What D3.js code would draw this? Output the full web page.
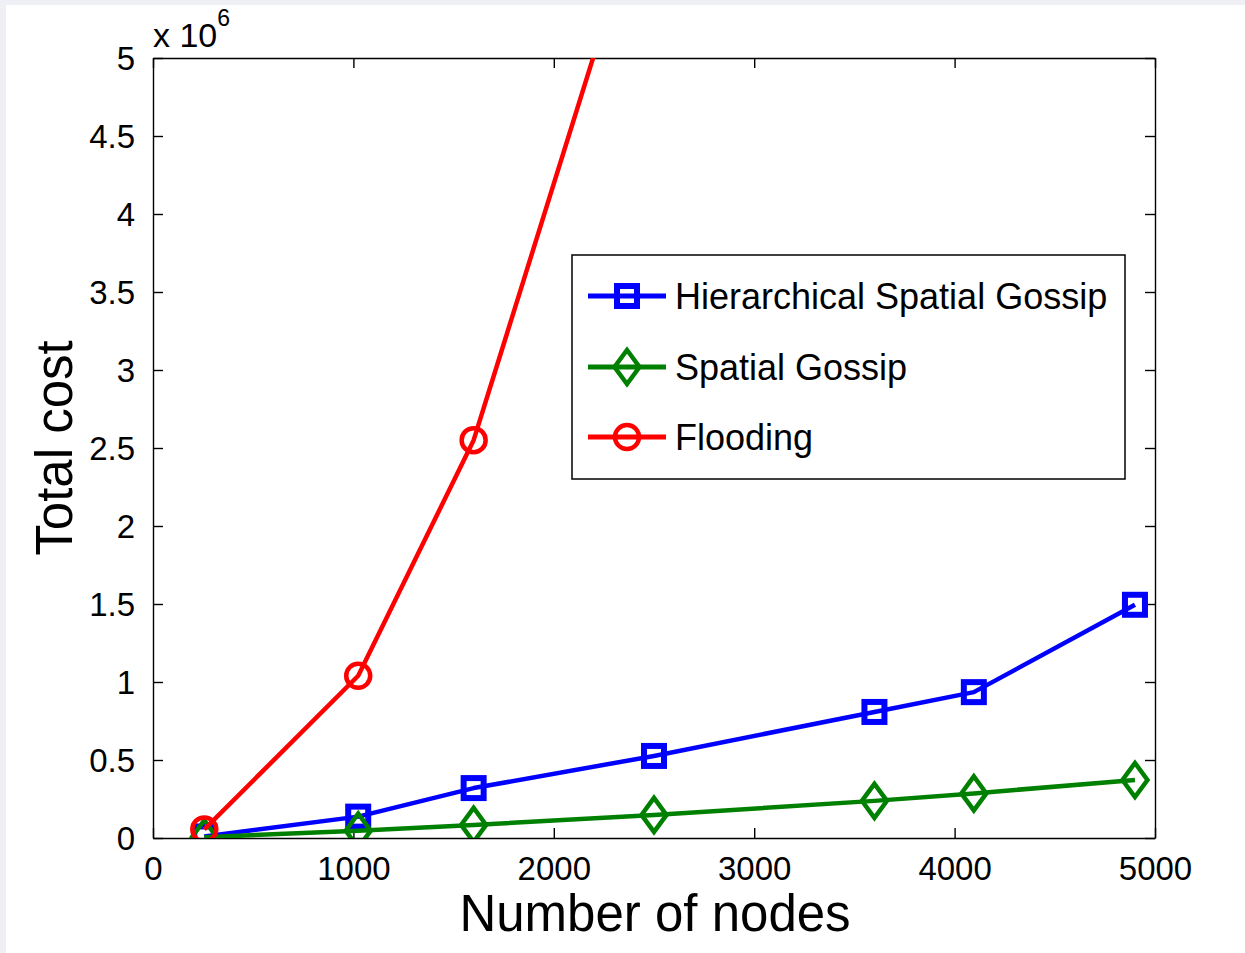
<!DOCTYPE html>
<html>
<head>
<meta charset="utf-8">
<script src="https://cdn.jsdelivr.net/npm/d3@7"></script>
<style>
  html, body { margin: 0; padding: 0; background: #eef0f5; }
  svg { display: block; }
  text { font-family: "Liberation Sans", Arial, sans-serif; fill: #000; }
</style>
</head>
<body>
<svg id="chart" width="1245" height="953"></svg>
<script>
// ---- data (values in units of 10^6) ----
const nodes = [256, 1024, 1600, 2500, 3600, 4096, 4900];
const hierarchicalSpatialGossip = [0.01, 0.137, 0.32, 0.526, 0.808, 0.935, 1.495];
const spatialGossip = [0.005, 0.047, 0.084, 0.148, 0.238, 0.286, 0.372];
const flooding = [0.055, 1.04, 2.55, 6.25, 12.96, 16.78, 24.0];
const xTicks = [0, 1000, 2000, 3000, 4000, 5000];
const yTicks = [0, 0.5, 1, 1.5, 2, 2.5, 3, 3.5, 4, 4.5, 5];
const seriesNames = ["Hierarchical Spatial Gossip", "Spatial Gossip", "Flooding"];
const seriesColors = ["#0000ff", "#008000", "#ff0000"];
const seriesMarkers = ["square", "diamond", "circle"];

const svg = d3.select("#chart");
svg.append("rect").attr("x", 6).attr("y", 5).attr("width", 1245 - 6).attr("height", 953 - 5).attr("fill", "#fff");

const L = 153, R = 1155, T = 58, B = 838;
const x = d3.scaleLinear().domain([0, 5000]).range([L, R]);
const y = d3.scaleLinear().domain([0, 5]).range([B, T]);

svg.append("defs").append("clipPath").attr("id", "plotclip")
  .append("rect").attr("x", L).attr("y", T).attr("width", R - L).attr("height", B - T);

// axes (inward ticks, MATLAB box)
const tickLen = 10;
const axB = svg.append("g").attr("transform", `translate(0,${B})`)
  .call(d3.axisBottom(x).tickValues(xTicks).tickSizeInner(-tickLen).tickSizeOuter(0).tickPadding(19).tickFormat(d3.format("d")));
const axT = svg.append("g").attr("transform", `translate(0,${T})`)
  .call(d3.axisTop(x).tickValues(xTicks).tickSizeInner(-tickLen).tickSizeOuter(0).tickFormat(""));
const axL = svg.append("g").attr("transform", `translate(${L},0)`)
  .call(d3.axisLeft(y).tickValues(yTicks).tickSizeInner(-tickLen).tickSizeOuter(0).tickPadding(18).tickFormat(d => String(d)));
const axR = svg.append("g").attr("transform", `translate(${R},0)`)
  .call(d3.axisRight(y).tickValues(yTicks).tickSizeInner(-tickLen).tickSizeOuter(0).tickFormat(""));
[axB, axT, axL, axR].forEach(g => {
  g.selectAll(".domain").attr("stroke", "#000").attr("stroke-width", 1.4);
  g.selectAll(".tick line").attr("stroke", "#000").attr("stroke-width", 1.4);
  g.selectAll("text").attr("font-size", 33).attr("font-family", "Liberation Sans, Arial, sans-serif").attr("fill", "#000");
});
axB.selectAll(".tick text").attr("dy", "0.71em");
axL.selectAll(".tick text").attr("dy", "0.36em");

// exponent label
const expo = svg.append("text").attr("x", 153).attr("y", 47).attr("font-size", 34);
expo.append("tspan").text("x 10");
expo.append("tspan").attr("dy", -21).attr("font-size", 23).text("6");

// axis titles
svg.append("text").attr("x", 655).attr("y", 931).attr("text-anchor", "middle").attr("font-size", 51).text("Number of nodes");
svg.append("text").attr("transform", "translate(72,448) rotate(-90)").attr("text-anchor", "middle").attr("font-size", 51).text("Total cost");

// series
const allSeries = [hierarchicalSpatialGossip, spatialGossip, flooding];
const line = d3.line().x((d, i) => x(nodes[i])).y(d => y(d));
const plot = svg.append("g").attr("clip-path", "url(#plotclip)");

function drawMarker(g, type, cx, cy, color) {
  if (type === "square") {
    g.append("rect").attr("x", cx - 10).attr("y", cy - 10).attr("width", 20).attr("height", 20)
      .attr("fill", "none").attr("stroke", color).attr("stroke-width", 6);
  } else if (type === "diamond") {
    g.append("path").attr("d", `M${cx},${cy - 17}L${cx + 12.5},${cy}L${cx},${cy + 17}L${cx - 12.5},${cy}Z`)
      .attr("fill", "none").attr("stroke", color).attr("stroke-width", 4.5);
  } else {
    g.append("circle").attr("cx", cx).attr("cy", cy).attr("r", 12)
      .attr("fill", "none").attr("stroke", color).attr("stroke-width", 4.5);
  }
}

allSeries.forEach((vals, si) => {
  plot.append("path").datum(vals).attr("d", line).attr("fill", "none")
    .attr("stroke", seriesColors[si]).attr("stroke-width", 4.5).attr("stroke-linejoin", "round");
  vals.forEach((v, i) => {
    if (v <= 5) drawMarker(plot, seriesMarkers[si], x(nodes[i]), y(v), seriesColors[si]);
  });
});

// legend
const lg = svg.append("g");
lg.append("rect").attr("x", 572).attr("y", 255).attr("width", 553).attr("height", 224)
  .attr("fill", "#fff").attr("stroke", "#000").attr("stroke-width", 1.5);
const rowY = [296, 367, 437];
seriesNames.forEach((name, si) => {
  lg.append("line").attr("x1", 588).attr("x2", 666).attr("y1", rowY[si]).attr("y2", rowY[si])
    .attr("stroke", seriesColors[si]).attr("stroke-width", 5);
  drawMarker(lg, seriesMarkers[si], 627, rowY[si], seriesColors[si]);
  lg.append("text").attr("x", 675).attr("y", rowY[si]).attr("dy", "0.36em").attr("font-size", 36).text(name);
});
</script>
</body>
</html>
